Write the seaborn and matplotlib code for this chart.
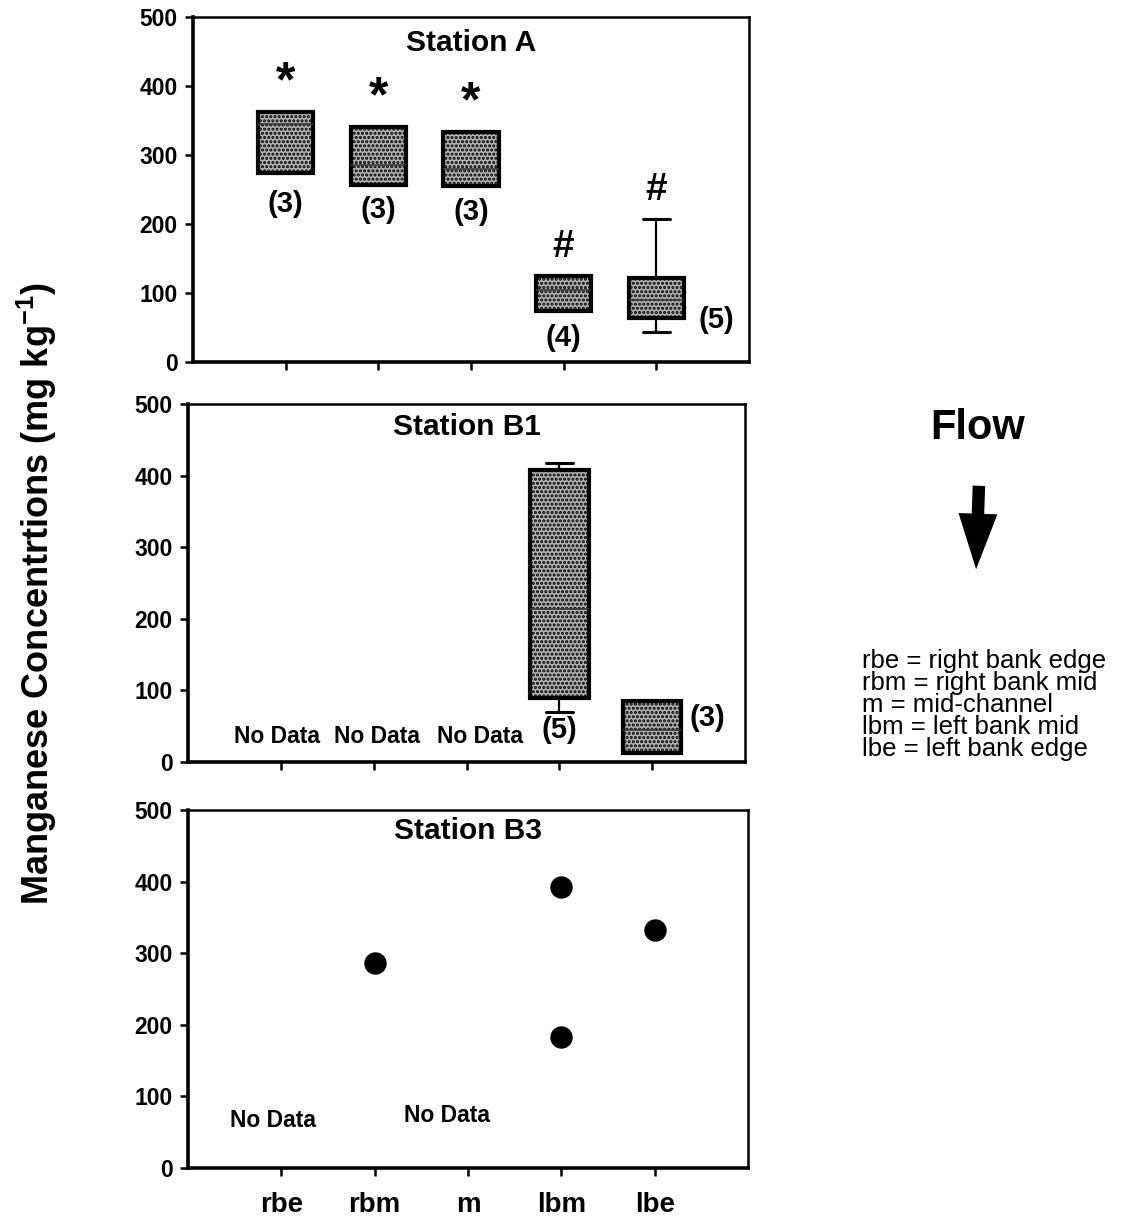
import matplotlib
matplotlib.use("Agg")
import matplotlib.pyplot as plt
from matplotlib.patches import FancyArrowPatch
import seaborn as sns
import pandas as pd

# ---- data -------------------------------------------------------------
sites = ["rbe", "rbm", "m", "lbm", "lbe"]

# Station A box statistics (mg/kg)
a_sites = ["rbe", "rbm", "m", "lbm", "lbe"]
a_q1 = [274, 256, 255, 74, 64]
a_med = [345, 286, 279, 104, 90]
a_q3 = [362, 340, 333, 124, 122]
a_whislo = [274, 256, 255, 74, 43]
a_whishi = [362, 340, 333, 124, 207]
a_n = [3, 3, 3, 4, 5]
a_sig = ["*", "*", "*", "#", "#"]

# Station B1 box statistics (mg/kg)
b1_sites = ["lbm", "lbe"]
b1_q1 = [90, 12]
b1_med = [213, 45]
b1_q3 = [408, 85]
b1_whislo = [70, 12]
b1_whishi = [418, 85]
b1_n = [5, 3]
b1_nodata = ["rbe", "rbm", "m"]

# Station B3 single measurements (mg/kg)
b3_sites = ["rbm", "lbm", "lbm", "lbe"]
b3_values = [287, 393, 183, 333]
b3_nodata = ["rbe", "m"]

legend_lines = ["rbe = right bank edge", "rbm = right bank mid",
                "m = mid-channel", "lbm = left bank mid",
                "lbe = left bank edge"]

# ---- style ------------------------------------------------------------
sns.set_theme(style="ticks")
plt.rcParams["font.family"] = ["Liberation Sans", "DejaVu Sans"]
plt.rcParams["mathtext.fontset"] = "custom"
plt.rcParams["mathtext.bf"] = "Liberation Sans:bold"
plt.rcParams["mathtext.rm"] = "Liberation Sans"
plt.rcParams["hatch.linewidth"] = 1.5
plt.rcParams["hatch.color"] = "#484848"
for key in ["text.color", "xtick.color", "ytick.color", "axes.labelcolor"]:
    plt.rcParams[key] = "black"

W, H = 1126, 1217
fig = plt.figure(figsize=(W / 100, H / 100), dpi=100)


def px_axes(left, right, top, bottom):
    return fig.add_axes([left / W, 1 - bottom / H, (right - left) / W, (bottom - top) / H])


ax_a = px_axes(193, 749, 17, 362)
ax_b1 = px_axes(188, 745, 404, 762)
ax_b3 = px_axes(188, 748, 810, 1168)

xpos = {s: i for i, s in enumerate(sites)}


def box_panel(ax, names, q1, med, q3, lo, hi, width):
    stats = [dict(label=nm, q1=a, med=m, q3=b, whislo=l, whishi=h, fliers=[])
             for nm, a, m, b, l, h in zip(names, q1, med, q3, lo, hi)]
    res = ax.bxp(stats, positions=[xpos[n] for n in names], widths=width,
                 patch_artist=True, showfliers=False, manage_ticks=False,
                 boxprops=dict(facecolor="#b2b2b2", edgecolor="black", linewidth=3),
                 medianprops=dict(color="#3a3a3a", linewidth=1.2),
                 whiskerprops=dict(color="black", linewidth=1.6),
                 capprops=dict(color="black", linewidth=2.2),
                 capwidths=0.29)
    for p in res["boxes"]:
        p.set_hatch("....")
        if hasattr(p, "set_hatchcolor"):
            p.set_hatchcolor("#484848")
    return res


def style_axes(ax, show_labels=False):
    ax.set_xlim(-1, 5)
    ax.set_ylim(0, 500)
    ax.set_yticks([0, 100, 200, 300, 400, 500])
    ax.set_xticks(range(len(sites)))
    ax.set_xticklabels(sites if show_labels else [""] * len(sites),
                       fontsize=20, fontweight="bold")
    for lab in ax.get_yticklabels():
        lab.set_fontsize(16.5)
        lab.set_fontweight("bold")
    ax.tick_params(axis="both", direction="out", length=6, width=1.8, color="black")
    ax.tick_params(axis="y", pad=5)
    ax.tick_params(axis="x", pad=11)
    for side in ["left", "bottom"]:
        ax.spines[side].set_linewidth(2.6)
        ax.spines[side].set_color("black")
    for side in ["top", "right"]:
        ax.spines[side].set_linewidth(1.8)
        ax.spines[side].set_color("black")
    ax.set_facecolor("white")
    ax.grid(False)


bold = dict(fontweight="bold", color="black")

# Station A
box_panel(ax_a, a_sites, a_q1, a_med, a_q3, a_whislo, a_whishi, 0.6)
style_axes(ax_a)
ax_a.text(2, 463, "Station A", ha="center", va="center", fontsize=21.5, **bold)
sig_offset = {"*": 42, "#": 42}
sig_size = {"*": 36, "#": 28}
for nm, top, sym in zip(a_sites, a_whishi, a_sig):
    ax_a.text(xpos[nm], top + sig_offset[sym], sym, ha="center", va="center",
              fontsize=sig_size[sym], **bold)
label_gap = {"rbe": 45, "rbm": 35, "m": 38, "lbm": 39}
for nm, bottom, n in zip(a_sites, a_whislo, a_n):
    if nm in label_gap:
        ax_a.text(xpos[nm], bottom - label_gap[nm], f"({n})", ha="center",
                  va="center", fontsize=21, **bold)
    else:
        ax_a.text(xpos[nm] + 0.65, a_q1[a_sites.index(nm)] - 3, f"({n})",
                  ha="center", va="center", fontsize=21, **bold)

# Station B1
box_panel(ax_b1, b1_sites, b1_q1, b1_med, b1_q3, b1_whislo, b1_whishi, 0.63)
style_axes(ax_b1)
ax_b1.text(2, 468, "Station B1", ha="center", va="center", fontsize=21.5, **bold)
ax_b1.text(xpos["lbm"], b1_whislo[0] - 26, f"({b1_n[0]})", ha="center", va="center",
           fontsize=21, **bold)
ax_b1.text(xpos["lbe"] + 0.6, b1_q3[1] - 23, f"({b1_n[1]})", ha="center", va="center",
           fontsize=21, **bold)
for nm, dx in zip(b1_nodata, [-0.04, 0.04, 0.15]):
    ax_b1.text(xpos[nm] + dx, 35, "No Data", ha="center", va="center",
               fontsize=16.5, **bold)

# Station B3
df_b3 = pd.DataFrame({"x": [xpos[s] for s in b3_sites], "value": b3_values})
sns.scatterplot(data=df_b3, x="x", y="value", ax=ax_b3, s=260, color="black",
                edgecolor="black", linewidth=0, zorder=3, legend=False)
style_axes(ax_b3, show_labels=True)
ax_b3.set_xlabel("")
ax_b3.set_ylabel("")
ax_b3.text(2, 470, "Station B3", ha="center", va="center", fontsize=21.5, **bold)
for nm, dx, y in zip(b3_nodata, [-0.09, -0.22], [66, 73]):
    ax_b3.text(xpos[nm] + dx, y, "No Data", ha="center", va="center",
               fontsize=16.5, **bold)

# shared y label
fig.text(37 / W, 1 - 594 / H, r"Manganese Concentrtions (mg kg$^{\mathbf{-1}}$)",
         rotation=90, ha="center", va="center", fontsize=26, **bold)

# flow direction
fig.text(978 / W, 1 - 428 / H, "Flow", ha="center", va="center", fontsize=30, **bold)
arrow = FancyArrowPatch((979 / W, 1 - 483 / H), (976 / W, 1 - 572 / H),
                        transform=fig.transFigure,
                        arrowstyle="simple,head_length=2.0,head_width=1.4,tail_width=0.45",
                        mutation_scale=20, color="black", linewidth=0)
fig.add_artist(arrow)

for i, line in enumerate(legend_lines):
    fig.text(862 / W, 1 - (661 + 22 * i) / H, line, ha="left", va="center",
             fontsize=18.5, color="black")

fig.savefig("out.png", dpi=100, facecolor="white")
